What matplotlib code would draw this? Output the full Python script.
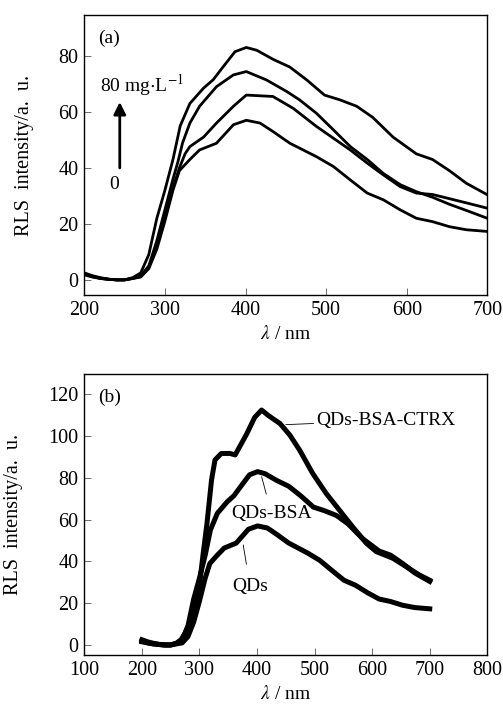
import matplotlib
matplotlib.use('Agg')
import matplotlib.pyplot as plt

plt.rcParams['font.family'] = ['Liberation Serif', 'DejaVu Serif']
plt.rcParams['mathtext.fontset'] = 'stix'

# panel (a): RLS spectra, CTRX 0 -> 80 mg/L
wl_a1 = [200, 210, 220, 230, 240, 250, 260, 270, 280, 290, 300, 310, 319, 331, 348, 360, 372, 387,
         401, 414, 434, 455, 476, 498, 517, 538, 558, 583, 612, 632, 653, 674, 700]
int_a1 = [2.5, 1.5, 0.8, 0.3, 0.0, 0.0, 0.8, 2.5, 9, 22, 32, 43, 55, 63, 68.5, 71.5, 76, 81.5,
          83, 82, 78.8, 76, 71.4, 66, 64.3, 62, 58, 51, 45, 43, 39, 34.5, 30.4]

wl_a2 = [200, 210, 220, 230, 240, 250, 260, 270, 280, 290, 300, 310, 316, 322, 331, 343, 364, 385,
         401, 426, 451, 467, 488, 509, 530, 551, 571, 592, 612, 632, 653, 674, 700]
int_a2 = [2.2, 1.3, 0.6, 0.2, 0.0, 0.0, 0.6, 1.5, 5, 14, 25, 36, 42, 49, 56, 62, 69, 73.2,
          74.4, 71.4, 67.3, 64.3, 59.5, 53.6, 47.6, 43, 38, 34, 31.5, 29.5, 27, 24.8, 22]

wl_a3 = [200, 210, 220, 230, 240, 250, 260, 270, 280, 290, 300, 310, 318, 325, 331, 348, 364, 385,
         401, 434, 459, 488, 509, 530, 551, 571, 592, 612, 632, 653, 674, 700]
int_a3 = [2.0, 1.2, 0.5, 0.2, 0.0, 0.0, 0.5, 1.2, 4.5, 12, 22, 33, 40, 45, 47.6, 51, 56, 62,
          66, 65.5, 61.3, 54.8, 50.6, 46.4, 41.7, 37.5, 33.3, 31, 30.5, 29, 27.5, 25.6]

wl_a4 = [200, 210, 220, 230, 240, 250, 260, 270, 280, 290, 300, 310, 318, 331, 343, 364, 385, 401,
         418, 434, 455, 488, 509, 530, 551, 571, 592, 612, 632, 653, 674, 700]
int_a4 = [1.8, 1.0, 0.5, 0.2, 0.0, 0.0, 0.5, 1.0, 4, 11, 21, 32, 39, 43, 46.4, 48.8, 55.4, 57,
          56, 53, 48.8, 44, 40.5, 35.7, 31, 28.6, 25, 22, 20.8, 19, 17.9, 17.3]

# panel (b): QDs, QDs-BSA, QDs-BSA-CTRX
wl_qds = wl_a4
int_qds = int_a4
wl_bsa = wl_a1
int_bsa = int_a1
wl_ctrx = [200, 210, 220, 230, 240, 250, 260, 268, 275, 282, 289, 295, 301, 307, 313, 321, 327,
           338, 353, 362, 370, 382, 396, 408, 419, 440, 457, 474, 497, 520, 543, 566, 590, 607,
           636, 659, 682, 700]
int_ctrx = [1.5, 1.0, 0.5, 0.2, 0.0, 0.0, 0.8, 2.5, 5.6, 10, 15, 22, 31, 45, 58, 79, 88.6,
            91.7, 91.7, 91, 95, 101, 109, 112.5, 110, 106, 100.5, 93.3, 82, 72.6, 64.6, 56.6, 48.7, 44.7,
            41.5, 37.5, 33.5, 31]

fig = plt.figure(figsize=(5.03, 7.1), dpi=100)
ax1 = fig.add_axes([0.1676, 0.5845, 0.8012, 0.3944])
ax2 = fig.add_axes([0.1676, 0.0775, 0.8012, 0.3953])

fs = 14.5
for wl, it in [(wl_a1, int_a1), (wl_a2, int_a2), (wl_a3, int_a3), (wl_a4, int_a4)]:
    ax1.plot(wl, it, color='black', lw=2.0, solid_joinstyle='round')
ax1.set_xlim(200, 700)
ax1.set_ylim(-5.4, 94.6)
ax1.set_xticks([200, 300, 400, 500, 600, 700])
ax1.set_yticks([0, 20, 40, 60, 80])
ax1.text(217, 86.3, '(a)', fontsize=14, va='center')
ax1.text(219, 69.6, r'80 mg$\cdot$L$^{-1}$', fontsize=14, va='center')
ax1.annotate('', xy=(244, 64.5), xytext=(244, 39),
             arrowprops=dict(arrowstyle='-|>', color='black', lw=2.0, mutation_scale=18))
ax1.text(237, 33.9, '0', fontsize=14, ha='center', va='center')

ax2.plot(wl_qds, int_qds, color='black', lw=3.6)
ax2.plot(wl_bsa, int_bsa, color='black', lw=3.6)
ax2.plot(wl_ctrx, int_ctrx, color='black', lw=3.6)
ax2.set_xlim(100, 800)
ax2.set_ylim(-4.8, 129.6)
ax2.set_xticks(range(100, 801, 100))
ax2.set_yticks(range(0, 121, 20))
ax2.text(124, 118.6, '(b)', fontsize=14, va='center')
ax2.annotate('QDs-BSA-CTRX', xy=(450, 105.5), xytext=(503, 107.5), fontsize=14, va='center',
             arrowprops=dict(arrowstyle='-', color='black', lw=0.6, shrinkA=0, shrinkB=0))
ax2.annotate('QDs-BSA', xy=(408, 80.6), xytext=(425, 63), fontsize=14, ha='center', va='center',
             arrowprops=dict(arrowstyle='-', color='black', lw=0.6, shrinkA=6, shrinkB=0))
ax2.annotate('QDs', xy=(376, 47.9), xytext=(388, 28), fontsize=14, ha='center', va='center',
             arrowprops=dict(arrowstyle='-', color='black', lw=0.6, shrinkA=8, shrinkB=0))

for ax in (ax1, ax2):
    ax.tick_params(direction='in', length=5, width=0.6, color='#555555', labelsize=fs, pad=4)
    for s in ax.spines.values():
        s.set_linewidth(1.0)
    ax.set_ylabel('RLS  intensity/a.  u.', fontsize=14.5, labelpad=18)
    ax.set_xlabel(r'$\lambda$ / nm', fontsize=14, labelpad=4)

fig.savefig('out.png', dpi=100)
